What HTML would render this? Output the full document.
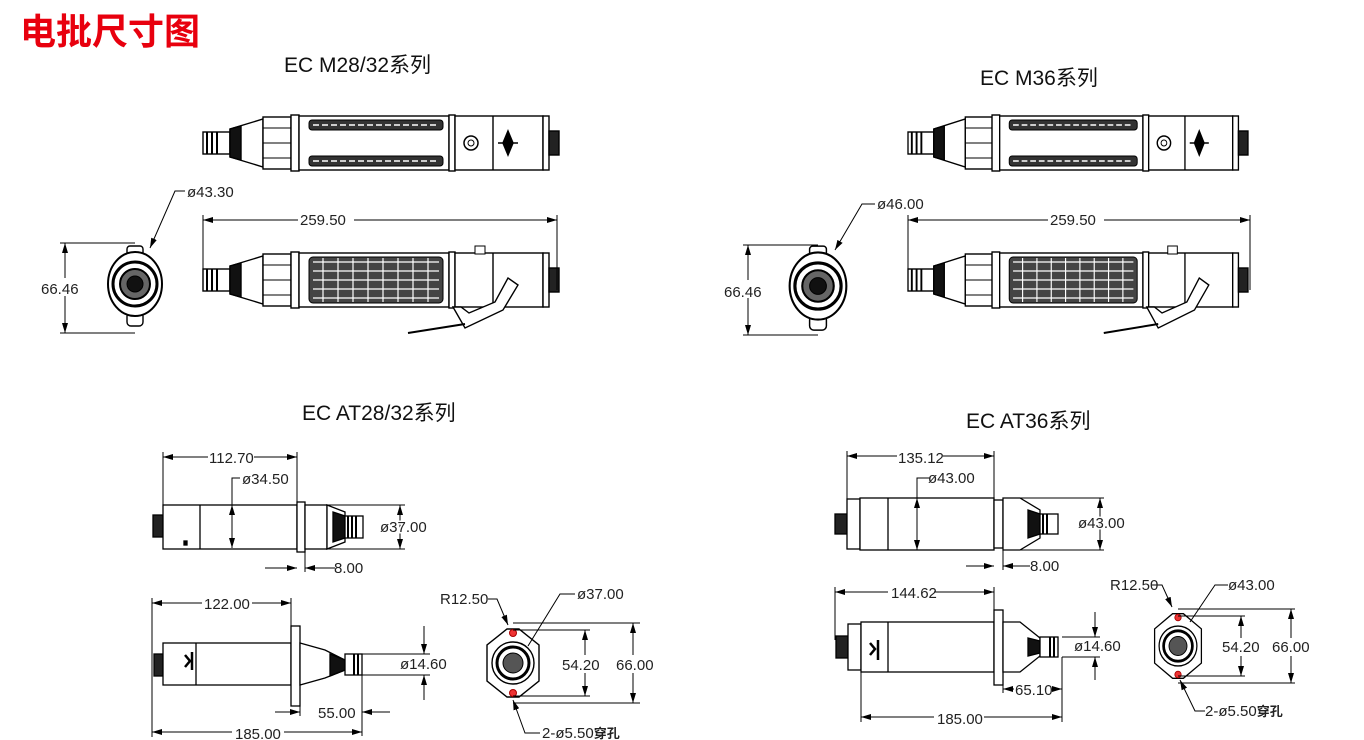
<!DOCTYPE html>
<html><head><meta charset="utf-8"><style>
html,body{margin:0;padding:0;background:#fff;}
svg{display:block;}
.t{font-family:"Liberation Sans","Noto Sans CJK SC",sans-serif;}
.d{font-family:"Liberation Sans",sans-serif;font-size:15px;fill:#222;}
</style></head><body>
<svg width="1364" height="740" viewBox="0 0 1364 740" xmlns="http://www.w3.org/2000/svg">
<defs>
<marker id="a" viewBox="0 0 10 6" refX="10" refY="3" markerWidth="10" markerHeight="6" orient="auto-start-reverse"><path d="M0,0L10,3L0,6z" fill="#000"/></marker>
<g id="tool" stroke="#000" stroke-width="1.4" fill="#fff">
  <rect x="0" y="-11" width="27" height="22"/>
  <path d="M4,-11v22M9,-11v22M14,-11v22" stroke-width="2"/>
  <polygon points="27,-14 60,-24 60,24 27,14"/>
  <polygon points="27,-14 38,-17 38,17 27,14" fill="#111"/>
  <rect x="60" y="-26" width="28" height="52"/>
  <path d="M60,-15h28M60,0h28M60,15h28" stroke-width="1"/>
  <rect x="88" y="-28" width="8" height="56"/>
  <rect x="96" y="-27" width="150" height="54"/>
  <rect x="246" y="-28" width="6" height="56"/>
  <rect x="252" y="-27" width="88" height="54"/>
  <line x1="290" y1="-27" x2="290" y2="27"/>
  <rect x="340" y="-27" width="6" height="54"/>
  <rect x="346" y="-12" width="10" height="24" fill="#222"/>
</g>
<g id="grooves" stroke="#000" fill="#333">
  <rect x="106" y="-23" width="134" height="10" rx="3"/>
  <rect x="106" y="13" width="134" height="10" rx="3"/>
  <path d="M110,-18h126M110,18h126" stroke="#fff" stroke-width="1.5" stroke-dasharray="6 3"/>
  <circle cx="268" cy="0" r="7" fill="#fff" stroke-width="1.5"/><circle cx="268" cy="0" r="3" fill="#fff"/>
  <path d="M305,-12l5,12l-5,12l-5,-12z M295,0h20" fill="#000" stroke-width="1.5"/>
</g>
<g id="mesh" stroke="#000">
  <rect x="106" y="-23" width="134" height="46" rx="4" fill="#444"/>
  <path d="M110,-18h126M110,-9h126M110,0h126M110,9h126M110,18h126M120,-22v44M135,-22v44M150,-22v44M165,-22v44M180,-22v44M195,-22v44M210,-22v44M225,-22v44" stroke="#fff" stroke-width="1.2"/>
  <path d="M250,27 L262,48 L300,30 L315,5 L305,-2 L292,22 L266,33 L258,27z" fill="#fff" stroke-width="1.4"/>
  <path d="M205,53 L262,44" fill="none" stroke-width="2"/>
  <rect x="272" y="-34" width="10" height="8" fill="#fff"/>
</g>
<g id="front" stroke="#000" fill="#fff">
  <rect x="-8" y="-38" width="16" height="10" rx="3" stroke-width="1.4"/>
  <rect x="-8" y="28" width="16" height="14" rx="4" stroke-width="1.4"/>
  <ellipse cx="0" cy="0" rx="27" ry="32" stroke-width="2"/>
  <circle r="22" stroke-width="3"/>
  <circle r="15" stroke-width="2" fill="#666"/>
  <circle r="8" fill="#111"/>
</g>
<g id="flangeF" stroke="#000" fill="#fff">
  <path d="M-6,-34 L6,-34 L26,-18 L26,18 L6,34 L-6,34 L-26,18 L-26,-18 Z" stroke-width="1.4"/>
  <circle r="21" stroke-width="1.4"/>
  <circle r="16" stroke-width="3"/>
  <circle r="10" fill="#555"/>
  <circle cx="0" cy="-30" r="3.5" fill="#e33" stroke="#a00"/>
  <circle cx="0" cy="30" r="3.5" fill="#e33" stroke="#a00"/>
</g>
</defs>

<text x="20" y="44" class="t" font-size="36" font-weight="bold" fill="#e8000e">电批尺寸图</text>
<text x="284" y="72" class="t" font-size="21" fill="#111">EC M28/32系列</text>
<text x="980" y="85" class="t" font-size="21" fill="#111">EC M36系列</text>
<text x="302" y="420" class="t" font-size="21" fill="#111">EC AT28/32系列</text>
<text x="966" y="428" class="t" font-size="21" fill="#111">EC AT36系列</text>

<!-- M28 -->
<use href="#tool" transform="translate(203,143)"/>
<use href="#grooves" transform="translate(203,143)"/>
<use href="#tool" transform="translate(203,280)"/>
<use href="#mesh" transform="translate(203,280)"/>
<g stroke="#000" stroke-width="1" fill="none">
  <line x1="203" y1="220" x2="557" y2="220" marker-start="url(#a)" marker-end="url(#a)"/>
  <line x1="203" y1="215" x2="203" y2="290"/><line x1="557" y1="215" x2="557" y2="290"/>
  <line x1="65" y1="243" x2="65" y2="333" marker-start="url(#a)" marker-end="url(#a)"/>
  <line x1="60" y1="243" x2="135" y2="243"/><line x1="60" y1="333" x2="135" y2="333"/>
  <polyline points="185,191 175,191 150,248" marker-end="url(#a)"/>
</g>
<use href="#front" transform="translate(135,284)"/>
<rect x="298" y="210" width="56" height="16" fill="#fff"/>
<text x="300" y="225" class="d">259.50</text>
<rect x="64" y="278" width="30" height="18" fill="#fff"/>
<text x="41" y="294" class="d">66.46</text>
<text x="187" y="197" class="d">ø43.30</text>

<!-- M36 -->
<use href="#tool" transform="translate(908,143) scale(0.955,1)"/>
<use href="#grooves" transform="translate(908,143) scale(0.955,1)"/>
<use href="#tool" transform="translate(908,280) scale(0.955,1)"/>
<use href="#mesh" transform="translate(908,280) scale(0.955,1)"/>
<g stroke="#000" stroke-width="1" fill="none">
  <line x1="908" y1="220" x2="1250" y2="220" marker-start="url(#a)" marker-end="url(#a)"/>
  <line x1="908" y1="215" x2="908" y2="290"/><line x1="1250" y1="215" x2="1250" y2="290"/>
  <line x1="748" y1="245" x2="748" y2="335" marker-start="url(#a)" marker-end="url(#a)"/>
  <line x1="743" y1="245" x2="818" y2="245"/><line x1="743" y1="335" x2="818" y2="335"/>
  <polyline points="875,204 862,204 835,250" marker-end="url(#a)"/>
</g>
<use href="#front" transform="translate(818,286) scale(1.05)"/>
<rect x="1048" y="210" width="56" height="16" fill="#fff"/>
<text x="1050" y="225" class="d">259.50</text>
<rect x="746" y="280" width="26" height="18" fill="#fff"/>
<text x="724" y="297" class="d">66.46</text>
<text x="877" y="209" class="d">ø46.00</text>

<!-- AT28 top -->
<g stroke="#000" stroke-width="1.3" fill="#fff">
  <rect x="153" y="515" width="10" height="22" fill="#222"/>
  <rect x="163" y="505" width="134" height="44"/>
  <line x1="200" y1="505" x2="200" y2="549"/>
  <rect x="297" y="502" width="8" height="50"/>
  <rect x="305" y="505" width="22" height="44"/>
  <polygon points="327,505 345,512 345,542 327,549"/>
  <polygon points="333,512 345,516 345,538 333,542" fill="#111"/>
  <rect x="345" y="516" width="18" height="22" fill="#fff"/>
  <path d="M348,516v22M352,516v22M356,516v22" stroke-width="2"/>
  <rect x="184" y="541" width="3" height="4" fill="#000"/>
</g>
<g stroke="#000" stroke-width="1" fill="none">
  <line x1="163" y1="457" x2="297" y2="457" marker-start="url(#a)" marker-end="url(#a)"/>
  <line x1="163" y1="452" x2="163" y2="505"/><line x1="297" y1="452" x2="297" y2="502"/>
  <polyline points="240,478 232,478 232,548"/>
  <line x1="232" y1="505" x2="232" y2="548" marker-start="url(#a)" marker-end="url(#a)"/>
  <line x1="327" y1="505" x2="405" y2="505"/><line x1="327" y1="549" x2="405" y2="549"/>
  <line x1="400" y1="505" x2="400" y2="549" marker-start="url(#a)" marker-end="url(#a)"/>
  <line x1="265" y1="568" x2="297" y2="568" marker-end="url(#a)"/>
  <line x1="335" y1="568" x2="305" y2="568" marker-end="url(#a)"/>
  <line x1="305" y1="552" x2="305" y2="572"/>
</g>
<rect x="208" y="448" width="46" height="16" fill="#fff"/>
<text x="209" y="463" class="d">112.70</text>
<text x="242" y="484" class="d">ø34.50</text>
<text x="380" y="532" class="d" style="paint-order:stroke" stroke="#fff" stroke-width="3">ø37.00</text>
<text x="334" y="573" class="d">8.00</text>

<!-- AT28 bottom -->
<g stroke="#000" stroke-width="1.3" fill="#fff">
  <rect x="154" y="654" width="9" height="22" fill="#222"/>
  <rect x="163" y="643" width="128" height="42"/>
  <line x1="196" y1="643" x2="196" y2="685"/>
  <path d="M185,655l5,6l-5,6M192,652v18" stroke-width="2.5"/>
  <rect x="291" y="626" width="9" height="80"/>
  <polygon points="300,643 325,650 345,660 345,670 325,678 300,685"/>
  <polygon points="330,654 345,660 345,670 330,676" fill="#111"/>
  <rect x="345" y="654" width="17" height="21"/>
  <path d="M354,654v21M358,654v21" stroke-width="2"/>
</g>
<g stroke="#000" stroke-width="1" fill="none">
  <line x1="152" y1="603" x2="291" y2="603" marker-start="url(#a)" marker-end="url(#a)"/>
  <line x1="152" y1="598" x2="152" y2="737"/><line x1="291" y1="598" x2="291" y2="626"/>
  <line x1="152" y1="732" x2="362" y2="732" marker-start="url(#a)" marker-end="url(#a)"/>
  <line x1="362" y1="675" x2="362" y2="736"/>
  <line x1="362" y1="654" x2="430" y2="654"/><line x1="362" y1="675" x2="430" y2="675"/>
  <line x1="424" y1="626" x2="424" y2="654" marker-end="url(#a)"/>
  <line x1="424" y1="700" x2="424" y2="675" marker-end="url(#a)"/>
  <line x1="275" y1="712" x2="300" y2="712" marker-end="url(#a)"/>
  <line x1="390" y1="712" x2="362" y2="712" marker-end="url(#a)"/>
  <line x1="300" y1="706" x2="300" y2="716"/>
</g>
<rect x="202" y="594" width="50" height="16" fill="#fff"/>
<text x="204" y="609" class="d">122.00</text>
<rect x="232" y="724" width="52" height="16" fill="#fff"/>
<text x="235" y="739" class="d">185.00</text>
<text x="318" y="718" class="d">55.00</text>
<text x="400" y="669" class="d">ø14.60</text>

<!-- AT28 front -->
<use href="#flangeF" transform="translate(513,663)"/>
<g stroke="#000" stroke-width="1" fill="none">
  <line x1="513" y1="630" x2="590" y2="630"/><line x1="513" y1="696" x2="590" y2="696"/>
  <line x1="513" y1="623" x2="640" y2="623"/><line x1="513" y1="703" x2="640" y2="703"/>
  <line x1="585" y1="630" x2="585" y2="696" marker-start="url(#a)" marker-end="url(#a)"/>
  <line x1="633" y1="623" x2="633" y2="703" marker-start="url(#a)" marker-end="url(#a)"/>
  <polyline points="488,599 497,599 508,625" marker-end="url(#a)"/>
  <polyline points="575,594 560,594 528,646"/>
  <polyline points="540,733 525,733 513,700" marker-end="url(#a)"/>
</g>
<text x="440" y="604" class="d">R12.50</text>
<text x="577" y="599" class="d">ø37.00</text>
<rect x="568" y="655" width="38" height="18" fill="#fff"/>
<text x="562" y="670" class="d">54.20</text>
<rect x="616" y="655" width="40" height="18" fill="#fff"/>
<text x="616" y="670" class="d">66.00</text>
<text x="542" y="738" class="d">2-ø5.50<tspan class="t" font-weight="bold" font-size="13">穿孔</tspan></text>

<!-- AT36 top -->
<g stroke="#000" stroke-width="1.3" fill="#fff">
  <rect x="835" y="514" width="12" height="20" fill="#222"/>
  <rect x="847" y="499" width="13" height="50"/>
  <rect x="860" y="498" width="134" height="52"/>
  <line x1="888" y1="498" x2="888" y2="550"/>
  <rect x="994" y="500" width="9" height="48"/>
  <polygon points="1003,498 1020,498 1040,510 1040,538 1020,550 1003,550"/>
  <polygon points="1028,510 1040,514 1040,534 1028,538" fill="#111"/>
  <rect x="1040" y="514" width="18" height="20"/>
  <path d="M1043,514v20M1047,514v20" stroke-width="2"/>
</g>
<g stroke="#000" stroke-width="1" fill="none">
  <line x1="847" y1="456" x2="994" y2="456" marker-start="url(#a)" marker-end="url(#a)"/>
  <line x1="847" y1="451" x2="847" y2="499"/><line x1="994" y1="451" x2="994" y2="500"/>
  <polyline points="930,478 917,478 917,545"/>
  <line x1="917" y1="498" x2="917" y2="550" marker-start="url(#a)" marker-end="url(#a)"/>
  <line x1="1020" y1="498" x2="1104" y2="498"/><line x1="1020" y1="550" x2="1104" y2="550"/>
  <line x1="1100" y1="498" x2="1100" y2="550" marker-start="url(#a)" marker-end="url(#a)"/>
  <line x1="966" y1="566" x2="994" y2="566" marker-end="url(#a)"/>
  <line x1="1030" y1="566" x2="1003" y2="566" marker-end="url(#a)"/>
  <line x1="1003" y1="550" x2="1003" y2="570"/>
</g>
<rect x="897" y="448" width="46" height="16" fill="#fff"/>
<text x="898" y="463" class="d">135.12</text>
<text x="928" y="483" class="d">ø43.00</text>
<text x="1078" y="528" class="d" style="paint-order:stroke" stroke="#fff" stroke-width="3">ø43.00</text>
<text x="1030" y="571" class="d">8.00</text>

<!-- AT36 bottom -->
<g stroke="#000" stroke-width="1.3" fill="#fff">
  <rect x="836" y="636" width="12" height="22" fill="#222"/>
  <rect x="848" y="624" width="13" height="46"/>
  <rect x="861" y="622" width="133" height="50"/>
  <line x1="888" y1="622" x2="888" y2="672"/>
  <path d="M870,643l5,6l-5,6M878,640v20" stroke-width="2.5"/>
  <rect x="994" y="610" width="9" height="75"/>
  <polygon points="1003,622 1020,622 1040,638 1040,656 1020,672 1003,672"/>
  <polygon points="1028,638 1040,641 1040,653 1028,656" fill="#111"/>
  <rect x="1040" y="637" width="18" height="20"/>
  <path d="M1050,637v20M1054,637v20" stroke-width="2"/>
</g>
<g stroke="#000" stroke-width="1" fill="none">
  <line x1="835" y1="592" x2="994" y2="592" marker-start="url(#a)" marker-end="url(#a)"/>
  <line x1="835" y1="587" x2="835" y2="640"/><line x1="994" y1="587" x2="994" y2="610"/>
  <line x1="861" y1="672" x2="861" y2="722"/>
  <line x1="861" y1="717" x2="1062" y2="717" marker-start="url(#a)" marker-end="url(#a)"/>
  <line x1="1062" y1="657" x2="1062" y2="722"/>
  <line x1="1062" y1="637" x2="1100" y2="637"/><line x1="1062" y1="657" x2="1100" y2="657"/>
  <line x1="1095" y1="612" x2="1095" y2="637" marker-end="url(#a)"/>
  <line x1="1095" y1="680" x2="1095" y2="657" marker-end="url(#a)"/>
  <line x1="1003" y1="689" x2="1062" y2="689" marker-start="url(#a)" marker-end="url(#a)"/>
  <line x1="1003" y1="685" x2="1003" y2="693"/>
</g>
<rect x="888" y="584" width="46" height="16" fill="#fff"/>
<text x="891" y="598" class="d">144.62</text>
<rect x="934" y="709" width="50" height="16" fill="#fff"/>
<text x="937" y="724" class="d">185.00</text>
<rect x="1014" y="681" width="38" height="16" fill="#fff"/>
<text x="1015" y="695" class="d">65.10</text>
<text x="1074" y="651" class="d">ø14.60</text>

<!-- AT36 front -->
<use href="#flangeF" transform="translate(1178,646) scale(0.9,0.95)"/>
<g stroke="#000" stroke-width="1" fill="none">
  <line x1="1178" y1="616" x2="1245" y2="616"/><line x1="1178" y1="676" x2="1245" y2="676"/>
  <line x1="1178" y1="609" x2="1295" y2="609"/><line x1="1178" y1="683" x2="1295" y2="683"/>
  <line x1="1241" y1="616" x2="1241" y2="676" marker-start="url(#a)" marker-end="url(#a)"/>
  <line x1="1291" y1="609" x2="1291" y2="683" marker-start="url(#a)" marker-end="url(#a)"/>
  <polyline points="1152,585 1162,585 1172,607" marker-end="url(#a)"/>
  <polyline points="1228,585 1215,585 1190,622"/>
  <polyline points="1205,711 1195,711 1180,680" marker-end="url(#a)"/>
</g>
<text x="1110" y="590" class="d">R12.50</text>
<text x="1228" y="590" class="d">ø43.00</text>
<rect x="1222" y="638" width="38" height="18" fill="#fff"/>
<text x="1222" y="652" class="d">54.20</text>
<rect x="1272" y="638" width="40" height="18" fill="#fff"/>
<text x="1272" y="652" class="d">66.00</text>
<text x="1205" y="716" class="d">2-ø5.50<tspan class="t" font-weight="bold" font-size="13">穿孔</tspan></text>
</svg>
</body></html>
